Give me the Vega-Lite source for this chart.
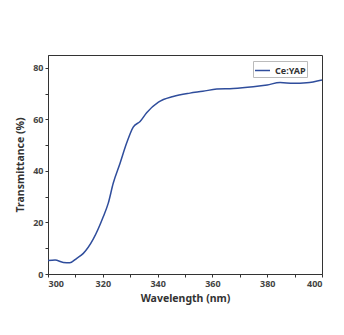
{
  "$schema": "https://vega.github.io/schema/vega-lite/v6.json",
  "autosize": {"type": "none"},
  "padding": {"left": 48, "top": 55, "right": 22, "bottom": 61},
  "width": 274,
  "height": 219,
  "background": "white",
  "data": {
    "values": [
      {"wl": 300.0, "t": 5.2, "series": "Ce:YAP"},
      {"wl": 302.6, "t": 5.4, "series": "Ce:YAP"},
      {"wl": 305.6, "t": 4.5, "series": "Ce:YAP"},
      {"wl": 308.0, "t": 4.4, "series": "Ce:YAP"},
      {"wl": 310.5, "t": 6.1, "series": "Ce:YAP"},
      {"wl": 312.9, "t": 8.0, "series": "Ce:YAP"},
      {"wl": 316.5, "t": 13.5, "series": "Ce:YAP"},
      {"wl": 320.2, "t": 22.3, "series": "Ce:YAP"},
      {"wl": 322.0, "t": 27.5, "series": "Ce:YAP"},
      {"wl": 323.8, "t": 35.2, "series": "Ce:YAP"},
      {"wl": 326.3, "t": 43.0, "series": "Ce:YAP"},
      {"wl": 328.7, "t": 50.8, "series": "Ce:YAP"},
      {"wl": 331.1, "t": 57.0, "series": "Ce:YAP"},
      {"wl": 333.6, "t": 59.2, "series": "Ce:YAP"},
      {"wl": 336.0, "t": 62.6, "series": "Ce:YAP"},
      {"wl": 340.3, "t": 66.7, "series": "Ce:YAP"},
      {"wl": 345.7, "t": 68.9, "series": "Ce:YAP"},
      {"wl": 351.8, "t": 70.2, "series": "Ce:YAP"},
      {"wl": 356.5, "t": 70.9, "series": "Ce:YAP"},
      {"wl": 361.6, "t": 71.8, "series": "Ce:YAP"},
      {"wl": 367.6, "t": 72.0, "series": "Ce:YAP"},
      {"wl": 374.9, "t": 72.7, "series": "Ce:YAP"},
      {"wl": 380.0, "t": 73.4, "series": "Ce:YAP"},
      {"wl": 384.7, "t": 74.3, "series": "Ce:YAP"},
      {"wl": 389.5, "t": 74.0, "series": "Ce:YAP"},
      {"wl": 394.4, "t": 74.2, "series": "Ce:YAP"},
      {"wl": 400.0, "t": 75.3, "series": "Ce:YAP"}
    ]
  },
  "mark": {"type": "line", "strokeWidth": 1.5, "interpolate": "monotone"},
  "encoding": {
    "x": {
      "field": "wl", "type": "quantitative",
      "scale": {"domain": [300, 400], "nice": false, "zero": false},
      "axis": {
        "title": "Wavelength (nm)",
        "values": [300, 310, 320, 330, 340, 350, 360, 370, 380, 390, 400],
        "labelExpr": "datum.value % 20 === 0 ? datum.label : ''",
        "grid": false, "tickSize": 3, "labelPadding": 2, "titlePadding": 5
      }
    },
    "y": {
      "field": "t", "type": "quantitative",
      "scale": {"domain": [0, 85], "nice": false},
      "axis": {
        "title": "Transmittance (%)",
        "values": [0, 10, 20, 30, 40, 50, 60, 70, 80],
        "labelExpr": "datum.value % 20 === 0 ? datum.label : ''",
        "grid": false, "tickSize": 3, "labelPadding": 2, "titlePadding": 7
      }
    },
    "color": {
      "field": "series", "type": "nominal",
      "scale": {"range": ["#2f4d9c"]},
      "legend": {
        "title": null, "orient": "none", "legendX": 205, "legendY": 6,
        "symbolType": "stroke", "symbolSize": 225, "symbolStrokeWidth": 1.5,
        "strokeColor": "#bbbbbb", "padding": 1,
        "labelFont": "Noto Sans", "labelFontWeight": "bold", "labelFontSize": 9, "labelColor": "#333333"
      }
    }
  },
  "config": {
    "view": {"stroke": "#333333", "strokeWidth": 1},
    "axis": {
      "domainColor": "#333333", "tickColor": "#333333",
      "labelFont": "Noto Sans", "labelFontWeight": "bold", "labelFontSize": 9, "labelColor": "#444444",
      "titleFont": "Noto Sans", "titleFontWeight": "bold", "titleFontSize": 10.5, "titleColor": "#333333"
    }
  }
}
